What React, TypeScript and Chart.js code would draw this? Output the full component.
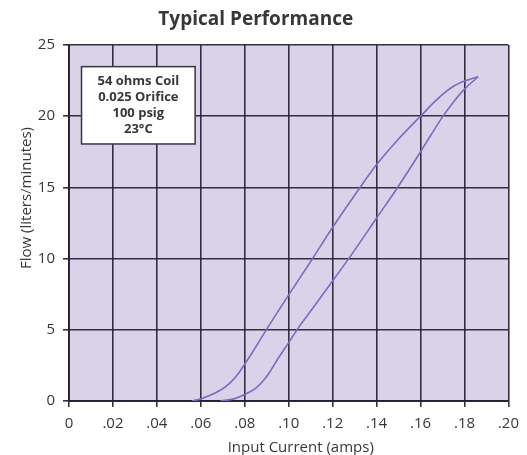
import React, { useEffect, useRef } from "react";
import { Chart, registerables } from "chart.js";

Chart.register(...registerables);

// ---- data ----
const titleText = "Typical Performance";
const xAxisTitle = "Input Current (amps)";
const yAxisTitle = "Flow (liters/minutes)";
const xTickLabels = ["0", ".02", ".04", ".06", ".08", ".10", ".12", ".14", ".16", ".18", ".20"];
const yTickValues = [0, 5, 10, 15, 20, 25];
const noteLines = ["54 ohms Coil", "0.025 Orifice", "100 psig", "23°C"];

// upper (left) branch of the hysteresis loop
const leftCurrent = [0.056, 0.060, 0.064, 0.068, 0.071, 0.074, 0.077, 0.080, 0.083, 0.086, 0.090, 0.100, 0.110, 0.120, 0.130, 0.140, 0.150, 0.160, 0.168, 0.175, 0.1815, 0.1862];
const leftFlow = [0.0, 0.15, 0.38, 0.68, 0.98, 1.38, 1.92, 2.6, 3.3, 4.05, 5.05, 7.45, 9.8, 12.2, 14.45, 16.6, 18.4, 20.0, 21.25, 22.1, 22.55, 22.77];

// lower (right) branch of the hysteresis loop
const rightCurrent = [0.069, 0.075, 0.080, 0.085, 0.088, 0.091, 0.095, 0.100, 0.104, 0.110, 0.120, 0.1273, 0.140, 0.150, 0.160, 0.165, 0.170, 0.175, 0.180, 0.1862];
const rightFlow = [0.0, 0.15, 0.45, 0.9, 1.35, 1.95, 2.95, 4.1, 5.05, 6.32, 8.44, 10.0, 12.85, 15.1, 17.5, 18.75, 19.95, 21.0, 21.9, 22.77];

// ---- styles ----
const FONT = "'Open Sans', 'DejaVu Sans', sans-serif";
const TEXT = "#3a3636";
const GRID = "rgba(40, 30, 50, 0.92)";
const PLOT_BG = "#d9d2e9";
const CURVE = "#7b6bc3";

const toPts = (xs: number[], ys: number[]) => xs.map((x, i) => ({ x, y: ys[i] }));

const plotBackground = {
  id: "plotBackground",
  beforeDraw(chart: any) {
    const { ctx, chartArea: a } = chart;
    ctx.save();
    ctx.fillStyle = PLOT_BG;
    ctx.fillRect(a.left, a.top, a.right - a.left, a.bottom - a.top);
    ctx.restore();
  },
};

const noteBox = {
  id: "noteBox",
  afterDatasetsDraw(chart: any) {
    const { ctx } = chart;
    const xs = chart.scales.x;
    const ys = chart.scales.y;
    const l = xs.getPixelForValue(0.0057);
    const r = xs.getPixelForValue(0.0574);
    const t = ys.getPixelForValue(23.48);
    const b = ys.getPixelForValue(18.05);
    ctx.save();
    ctx.fillStyle = "#ffffff";
    ctx.fillRect(l, t, r - l, b - t);
    ctx.strokeStyle = "#3a3440";
    ctx.lineWidth = 1.5;
    ctx.strokeRect(l, t, r - l, b - t);
    ctx.fillStyle = TEXT;
    ctx.font = `bold 13px ${FONT}`;
    ctx.textAlign = "center";
    ctx.textBaseline = "middle";
    const cx = (l + r) / 2;
    const lh = 16;
    const y0 = (t + b) / 2 - (lh * (noteLines.length - 1)) / 2;
    noteLines.forEach((s, i) => ctx.fillText(s, cx, y0 + i * lh));
    ctx.restore();
  },
};

const axisTitles = {
  id: "axisTitles",
  afterDraw(chart: any) {
    const { ctx, chartArea: a } = chart;
    ctx.save();
    ctx.fillStyle = TEXT;
    ctx.font = `15px ${FONT}`;
    ctx.textAlign = "center";
    ctx.textBaseline = "middle";
    ctx.fillText(xAxisTitle, (a.left + a.right) / 2 + 12, a.bottom + 47);
    ctx.translate(27, (a.top + a.bottom) / 2 - 25);
    ctx.rotate(-Math.PI / 2);
    ctx.fillText(yAxisTitle, 0, 0);
    ctx.restore();
  },
};

export default function App() {
  const ref = useRef<HTMLCanvasElement | null>(null);

  useEffect(() => {
    if (!ref.current) return;
    const chart = new Chart(ref.current, {
      type: "scatter",
      data: {
        datasets: [
          {
            label: "Decreasing current",
            data: toPts(leftCurrent, leftFlow),
            showLine: true,
            borderColor: CURVE,
            borderWidth: 1.6,
            pointRadius: 0,
            cubicInterpolationMode: "monotone",
          },
          {
            label: "Increasing current",
            data: toPts(rightCurrent, rightFlow),
            showLine: true,
            borderColor: CURVE,
            borderWidth: 1.6,
            pointRadius: 0,
            cubicInterpolationMode: "monotone",
          },
        ],
      },
      options: {
        animation: false,
        responsive: false,
        devicePixelRatio: 1,
        layout: { padding: { left: 0, right: 15.5, top: 0, bottom: 0 } },
        plugins: {
          legend: { display: false },
          tooltip: { enabled: false },
          title: {
            display: true,
            text: titleText,
            color: TEXT,
            font: { family: FONT, size: 19, weight: "bold", lineHeight: 1.2 },
            padding: { top: 8, bottom: 14.2 },
          },
        },
        scales: {
          x: {
            type: "linear",
            min: 0,
            max: 0.2,
            afterFit: (s: any) => {
              s.height = 54;
            },
            afterBuildTicks: (s: any) => {
              s.ticks = xTickLabels.map((_, i) => ({ value: i * 0.02 }));
            },
            ticks: {
              callback: (v: any) => xTickLabels[Math.round(Number(v) / 0.02)] ?? "",
              color: TEXT,
              font: { family: FONT, size: 15 },
              padding: 8,
              maxRotation: 0,
              autoSkip: false,
            },
            grid: { color: GRID, lineWidth: 1.6, tickLength: 6, drawTicks: true },
            border: { display: true, color: GRID, width: 2 },
          },
          y: {
            type: "linear",
            min: 0,
            max: 25,
            afterFit: (s: any) => {
              s.width = 69;
            },
            afterBuildTicks: (s: any) => {
              s.ticks = yTickValues.map((v) => ({ value: v }));
            },
            ticks: {
              callback: (v: any) => String(v),
              color: TEXT,
              font: { family: FONT, size: 15 },
              padding: 8,
            },
            grid: { color: GRID, lineWidth: 1.6, tickLength: 6, drawTicks: true },
            border: { display: true, color: GRID, width: 2 },
          },
        },
      },
      plugins: [plotBackground, noteBox, axisTitles],
    } as any);
    return () => chart.destroy();
  }, []);

  return (
    <div style={{ position: "absolute", left: 0, top: 0, width: 527, height: 455, background: "#ffffff" }}>
      <canvas ref={ref} width={527} height={455} style={{ display: "block", width: 527, height: 455 }} />
    </div>
  );
}
